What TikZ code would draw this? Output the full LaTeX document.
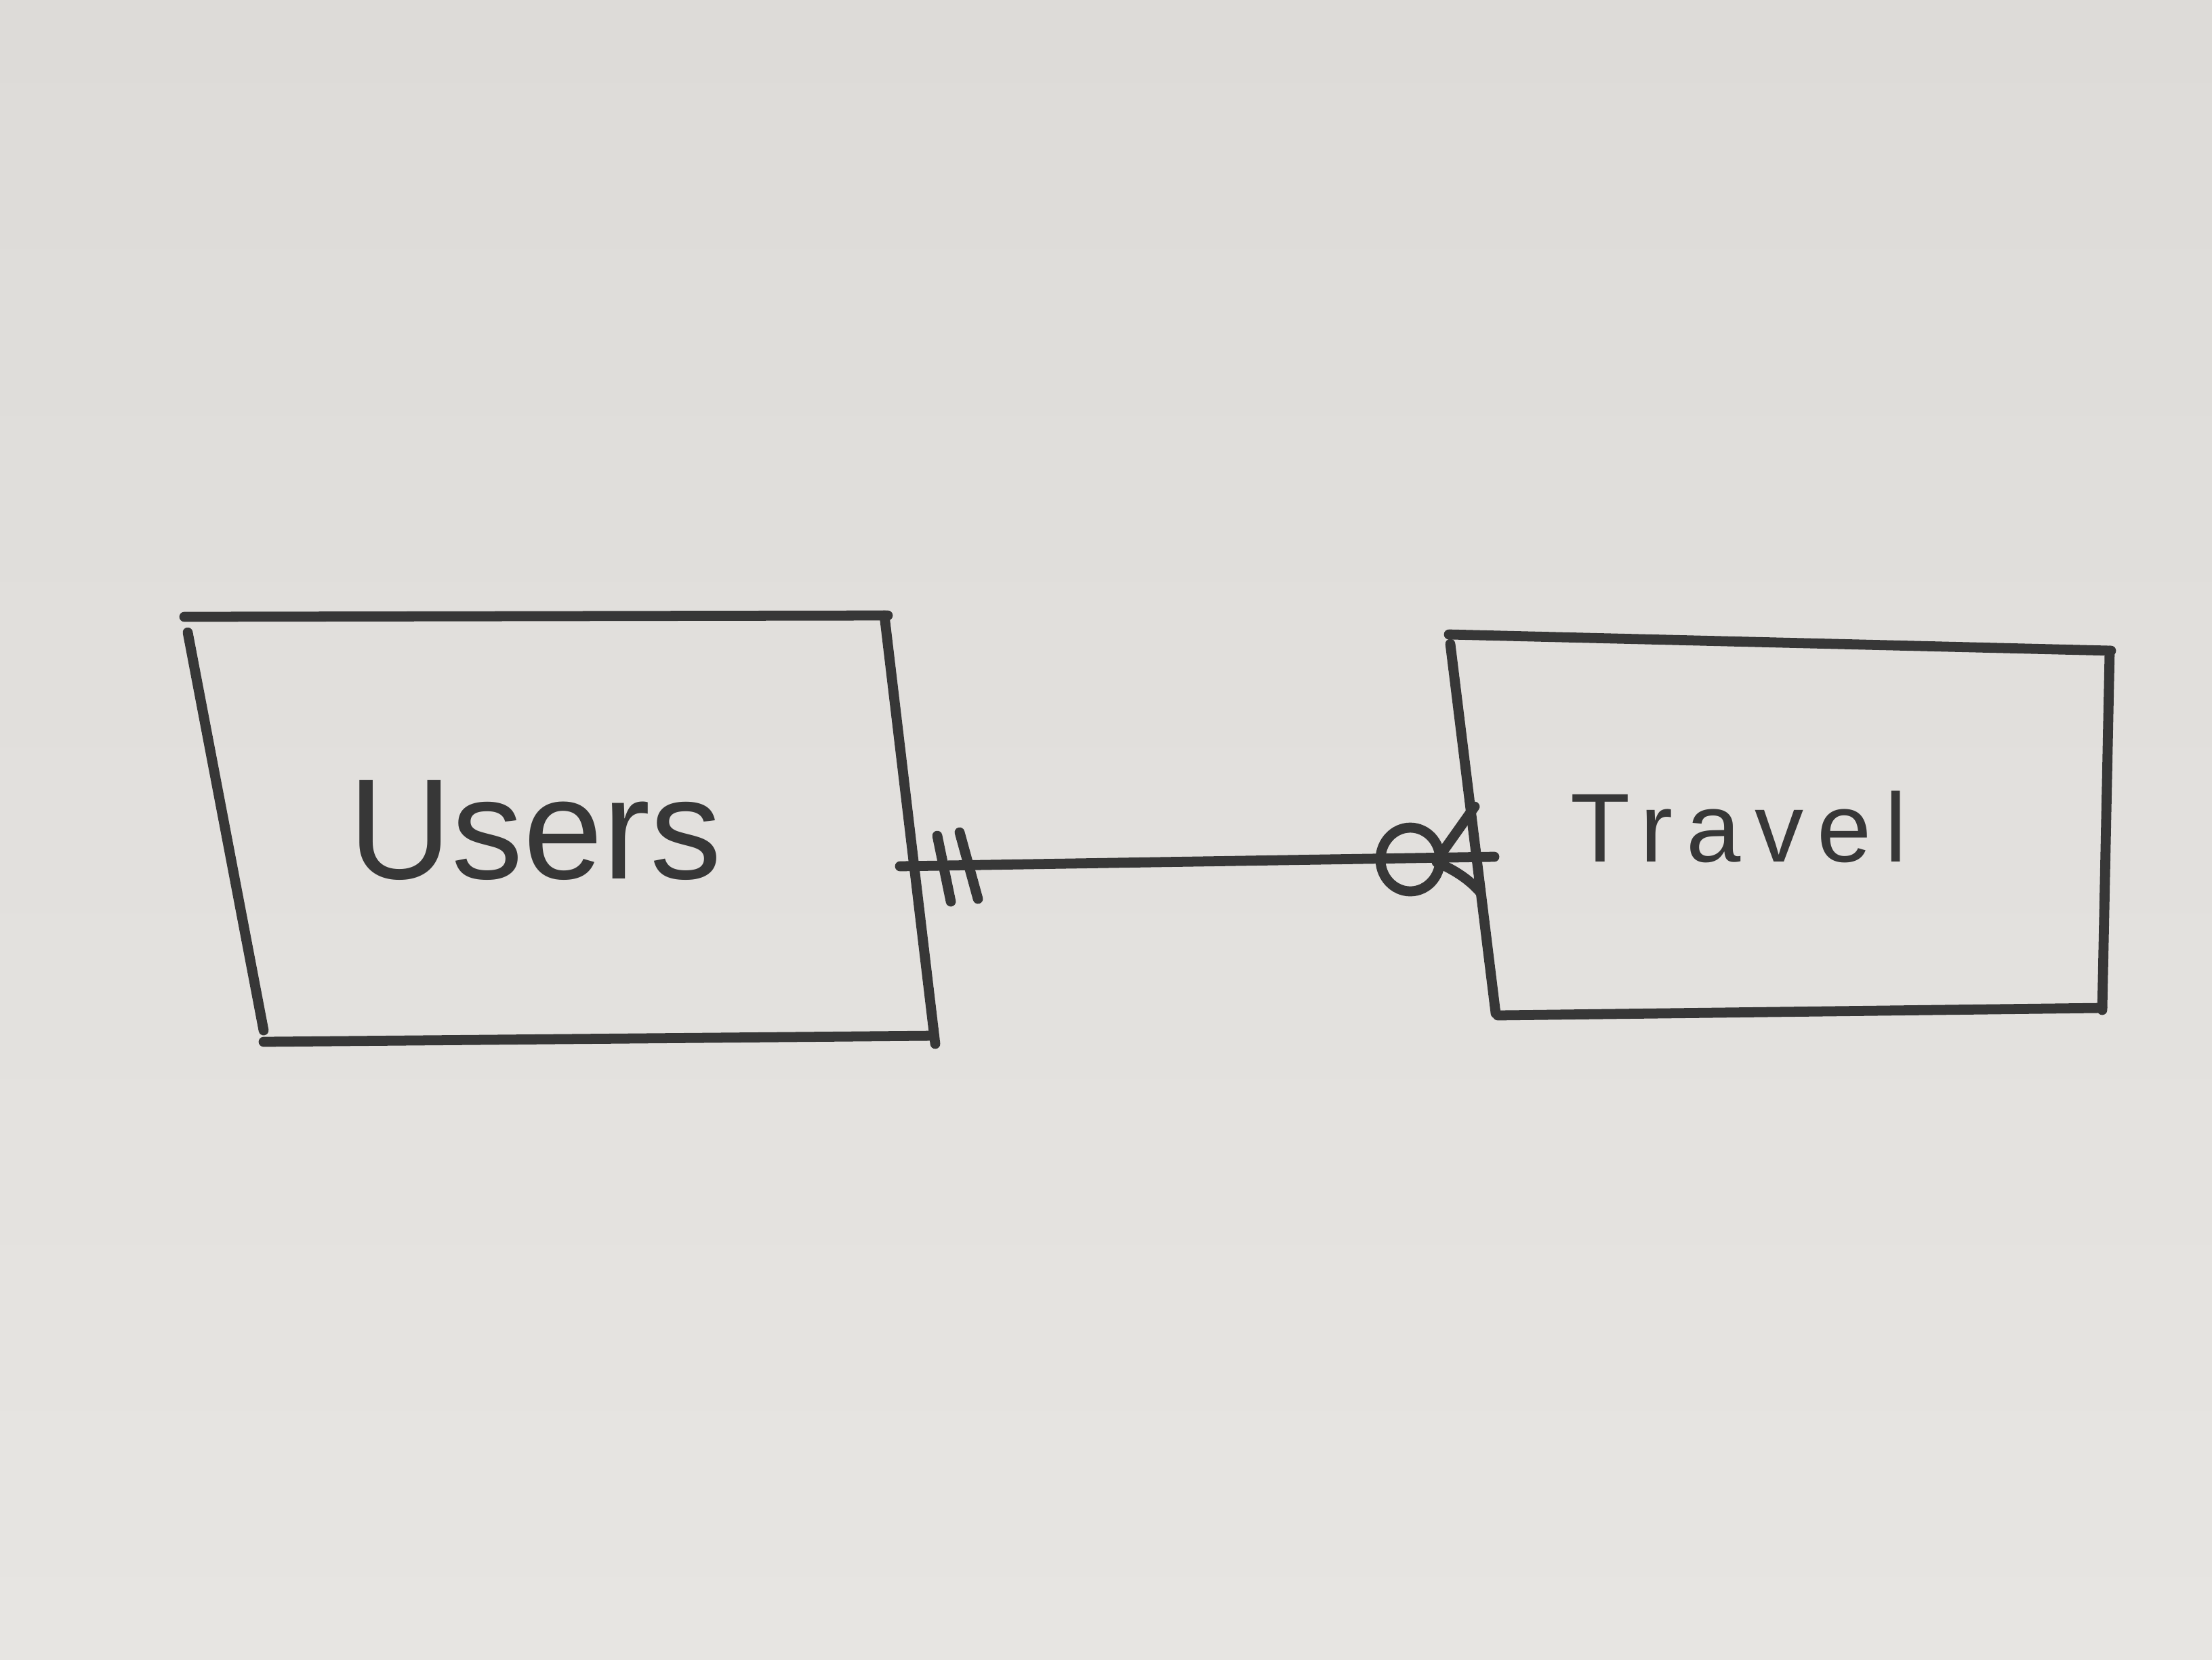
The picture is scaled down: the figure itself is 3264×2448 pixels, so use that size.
\documentclass[tikz,border=0pt]{standalone}
\usepackage{fontspec}
\setmainfont{Liberation Sans}
\usetikzlibrary{calc}
\definecolor{paper}{RGB}{231,229,226}
\definecolor{paperTop}{RGB}{221,219,216}
\definecolor{ink}{RGB}{55,55,55}
\begin{document}
\begin{tikzpicture}[x=0.01cm,y=-0.01cm,
  pen/.style={draw=ink,line width=4.2pt,line cap=round,line join=round},
  label/.style={text=ink,inner sep=0pt}]
\shade[top color=paperTop,bottom color=paper] (0,0) rectangle (3264,2448);
\useasboundingbox (0,0) rectangle (3264,2448);
% Users box (slanted, hand-drawn)
\draw[pen] (272,910) -- (1310,908);
\draw[pen] (1305,908) -- (1380,1540);
\draw[pen] (1378,1528) -- (389,1537);
\draw[pen] (277,933) -- (389,1520);
% Travel box
\draw[pen] (2138,936) -- (3115,960);
\draw[pen] (3113,960) -- (3102,1490);
\draw[pen] (3102,1487) -- (2210,1498);
\draw[pen] (2140,950) -- (2207,1495);
% labels
\node[label,font=\fontsize{60}{60}\selectfont] (users) at (790,1225) {Users};
\node[label,font=\fontsize{41}{41}\selectfont\addfontfeature{LetterSpace=14}] (travel) at (2566,1220) {Travel};
% connector ends
\coordinate (uR) at (1328,1278);
\coordinate (tL) at (2205,1264);
\draw[pen] (uR) -- (tL);
% one-and-only-one marks
\draw[pen] ($(uR)+(55,-45)$) -- ($(uR)+(75,52)$);
\draw[pen] ($(uR)+(88,-50)$) -- ($(uR)+(115,48)$);
% zero (circle)
\draw[pen] (2081,1268) ellipse [x radius=44, y radius=47];
% crow's foot (many)
\draw[pen] (2125,1262) -- (2176,1190);
\draw[pen] (2120,1272) .. controls (2150,1285) and (2170,1300) .. (2184,1316);
\end{tikzpicture}
\end{document}
